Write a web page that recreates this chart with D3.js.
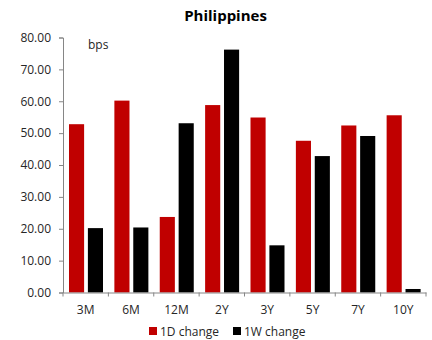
<!DOCTYPE html>
<html>
<head>
<meta charset="utf-8">
<script src="https://cdn.jsdelivr.net/npm/d3@7"></script>
<style>
  html, body { margin: 0; padding: 0; background: #fff; }
  svg text { font-family: "Open Sans", "Noto Sans", sans-serif; }
</style>
</head>
<body>
<svg id="chart" width="432" height="340"></svg>
<script>
// Tenors along the curve
const tenors = ["3M", "6M", "12M", "2Y", "3Y", "5Y", "7Y", "10Y"];
// Yield changes in basis points
const change1D = [52.8, 60.2, 23.7, 58.8, 54.9, 47.6, 52.4, 55.6];
const change1W = [20.2, 20.4, 53.1, 76.2, 14.8, 42.8, 49.1, 1.1];
const seriesNames = ["1D change", "1W change"];
const seriesColors = ["#C00000", "#000000"];
const yTicks = [0, 10, 20, 30, 40, 50, 60, 70, 80];

const svg = d3.select("#chart");
const axisColor = "#868686";
const textColor = "#262626";
const fs = 12;

const x = d3.scaleBand().domain(tenors).range([63, 426]).padding(0);
const xs = d3.scaleBand().domain(seriesNames).range([6, 40]).paddingInner(0.2);
const y = d3.scaleLinear().domain([0, 80]).range([292.5, 37.5]);

// Title
svg.append("text")
  .attr("x", 225.5).attr("y", 21)
  .attr("text-anchor", "middle")
  .attr("font-size", 15).attr("font-weight", "bold")
  .attr("fill", "#000")
  .text("Philippines");

// Bars
const rows = tenors.map((t, i) => ({ tenor: t, values: [change1D[i], change1W[i]] }));
const groups = svg.append("g").selectAll("g")
  .data(rows).join("g")
  .attr("transform", d => `translate(${x(d.tenor)},0)`);
groups.selectAll("rect")
  .data(d => d.values.map((v, k) => ({ v, k })))
  .join("rect")
  .attr("x", d => xs(seriesNames[d.k]))
  .attr("width", xs.bandwidth())
  .attr("y", d => y(d.v))
  .attr("height", d => y(0) - y(d.v))
  .attr("fill", d => seriesColors[d.k]);

// Y axis
const yAxis = svg.append("g")
  .attr("transform", "translate(63,0)")
  .call(d3.axisLeft(y).tickValues(yTicks).tickFormat(d3.format(".2f")).tickSizeOuter(0).tickSize(4).tickPadding(8));
yAxis.select(".domain").attr("stroke", axisColor);
yAxis.selectAll(".tick line").attr("stroke", axisColor);
yAxis.selectAll(".tick text").attr("fill", textColor).attr("font-size", fs);

// X axis: labels centered on each tenor, ticks at the group boundaries
const xAxis = svg.append("g")
  .attr("transform", `translate(0,${y(0)})`)
  .call(d3.axisBottom(x).tickSize(0).tickSizeOuter(0).tickPadding(13));
xAxis.select(".domain").attr("stroke", axisColor);
xAxis.selectAll(".tick text").attr("fill", textColor).attr("font-size", fs);
const bounds = tenors.map(t => x(t)).concat([x.range()[1]]);
xAxis.selectAll("line.bound")
  .data(bounds).join("line")
  .attr("class", "bound")
  .attr("x1", d => d).attr("x2", d => d)
  .attr("y1", 0).attr("y2", 4)
  .attr("stroke", axisColor);

// Unit label
svg.append("text")
  .attr("x", 88).attr("y", 49)
  .attr("font-size", fs).attr("fill", textColor)
  .text("bps");

// Legend
const legend = svg.append("g");
const legendX = [149, 233];
seriesNames.forEach((name, k) => {
  legend.append("rect")
    .attr("x", legendX[k]).attr("y", 327)
    .attr("width", 8).attr("height", 8)
    .attr("fill", seriesColors[k]);
  legend.append("text")
    .attr("x", legendX[k] + 11).attr("y", 335.5)
    .attr("font-size", fs).attr("fill", textColor)
    .text(name);
});
</script>
</body>
</html>
